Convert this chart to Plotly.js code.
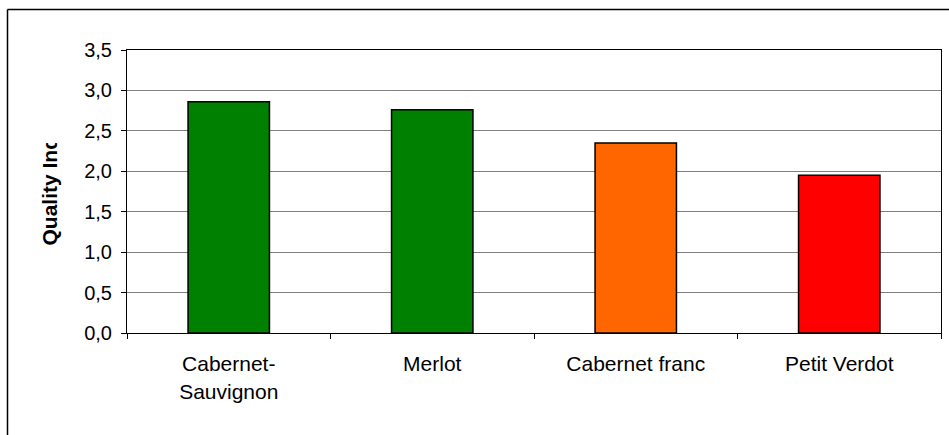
<!DOCTYPE html>
<html>
<head>
<meta charset="utf-8">
<script src="https://cdn.plot.ly/plotly-3.0.1.min.js"></script>
<style>
  html, body { margin: 0; padding: 0; background: #fff; }
  #chart { width: 949px; height: 435px; }
</style>
</head>
<body>
<div id="chart"></div>
<script>
// Grape varieties and their quality index
const varieties = ["Cabernet-<br>Sauvignon", "Merlot", "Cabernet franc", "Petit Verdot"];
const qualityIndex = [2.86, 2.76, 2.35, 1.95];
const barColors = ["#008000", "#008000", "#FF6600", "#FF0000"];
const yTicks = [0, 0.5, 1, 1.5, 2, 2.5, 3, 3.5];

// Plot-area geometry in pixels
const W = 949, H = 435;
const M = { l: 127, r: 8, t: 50, b: 102 };
const pw = W - M.l - M.r, ph = H - M.t - M.b;
const px = x => (x - M.l) / pw;          // pixel -> paper x
const py = y => (H - M.b - y) / ph;      // pixel -> paper y

const FONT = "Liberation Sans, Arial, sans-serif";

const trace = {
  type: "bar",
  x: varieties,
  y: qualityIndex,
  marker: { color: barColors, line: { color: "#000000", width: 1.5 } },
  hoverinfo: "skip"
};

const layout = {
  width: W, height: H,
  margin: M,
  paper_bgcolor: "#ffffff",
  plot_bgcolor: "#ffffff",
  separators: ", ",
  showlegend: false,
  bargap: 0.6,
  font: { family: FONT, color: "#000000" },
  xaxis: {
    type: "category",
    showline: true, linecolor: "#000000", linewidth: 1, mirror: true,
    ticks: "outside", tickson: "boundaries", ticklen: 5, tickcolor: "#000000",
    showgrid: false, zeroline: false,
    tickfont: { family: FONT, size: 21, color: "#000000" },
    ticklabelstandoff: 12,
    fixedrange: true
  },
  yaxis: {
    range: [0, 3.5],
    tickvals: yTicks,
    tickformat: ".1f",
    showline: true, linecolor: "#000000", linewidth: 1, mirror: true,
    ticks: "outside", ticklen: 5, tickcolor: "#000000",
    showgrid: true, gridcolor: "#808080", gridwidth: 1,
    zeroline: false,
    tickfont: { family: FONT, size: 20, color: "#000000" },
    ticklabelstandoff: 5,
    fixedrange: true
  },
  annotations: [{
    text: "<b>Quality Index</b>",
    xref: "paper", yref: "paper",
    x: px(48.5), y: py(248),
    xanchor: "center", yanchor: "bottom",
    textangle: -90,
    showarrow: false,
    font: { family: FONT, size: 21, color: "#000000" }
  }],
  shapes: [
    // chart-area frame (left and top edges)
    { type: "line", xref: "paper", yref: "paper",
      x0: px(7.5), x1: px(7.5), y0: py(9.5), y1: py(H + 20),
      line: { color: "#000000", width: 1.5 } },
    { type: "line", xref: "paper", yref: "paper",
      x0: px(7.5), x1: px(W + 20), y0: py(9.5), y1: py(9.5),
      line: { color: "#000000", width: 1.5 } }
  ]
};

Plotly.newPlot("chart", [trace], layout, { displayModeBar: false, staticPlot: true }).then(gd => {
  // the axis title is cut off at the top of its column
  const ns = "http://www.w3.org/2000/svg";
  const svgs = gd.querySelectorAll("svg.main-svg");
  const top = svgs[svgs.length - 1];
  let defs = top.querySelector("defs");
  if (!defs) { defs = document.createElementNS(ns, "defs"); top.insertBefore(defs, top.firstChild); }
  const cp = document.createElementNS(ns, "clipPath");
  cp.setAttribute("id", "ytitle-clip");
  const r = document.createElementNS(ns, "rect");
  r.setAttribute("x", 0); r.setAttribute("y", 143);
  r.setAttribute("width", 120); r.setAttribute("height", H);
  cp.appendChild(r);
  defs.appendChild(cp);
  const ann = gd.querySelector("g.annotation");
  if (ann) ann.setAttribute("clip-path", "url(#ytitle-clip)");
});
</script>
</body>
</html>
